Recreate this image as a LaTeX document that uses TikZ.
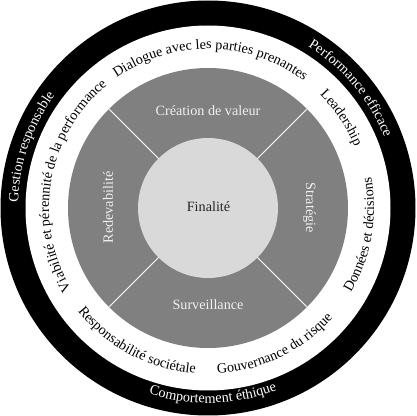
\documentclass[tikz,border=0pt]{standalone}
\usepackage{fontspec}
\setmainfont{Liberation Serif}
\usetikzlibrary{decorations.text}
\definecolor{ringgrey}{HTML}{808080}
\definecolor{coregrey}{HTML}{D9D9D9}
\definecolor{paletext}{HTML}{F0F0F0}
\definecolor{darktext}{HTML}{262626}
\newcommand\myfont{\fontsize{14.2}{16}\selectfont}
% clockwise arc text (letters point outward): #1 radius, #2 mid angle, #3 colour, #4 text
\newcommand\arctextcw[4]{%
  \path[decoration={text along path,text align=center,
        text={|\myfont\color{#3}|#4}},decorate]
    ([shift={(#2+70:#1)}]c) arc[start angle=#2+70,end angle=#2-70,radius=#1];}
% counter-clockwise arc text (letters point inward)
\newcommand\arctextccw[4]{%
  \path[decoration={text along path,text align=center,
        text={|\myfont\color{#3}|#4}},decorate]
    ([shift={(#2-70:#1)}]c) arc[start angle=#2-70,end angle=#2+70,radius=#1];}
\begin{document}
\begin{tikzpicture}[x=1pt,y=1pt,
  divider/.style={draw=white,line width=0.9pt},
  innerlabel/.style={text=paletext,font=\myfont,inner sep=0pt},
  corelabel/.style={text=darktext,font=\myfont,inner sep=0pt}]
\useasboundingbox (0,0) rectangle (416,416);
\coordinate (c) at (208,208);
\fill[black] (c) circle[radius=207.5];
\fill[white] (c) circle[radius=182.5];
\fill[ringgrey] (c) circle[radius=140];
\fill[coregrey] (c) circle[radius=70];
% dividers
\foreach \a in {45,135,225,315}{
  \coordinate (d\a i) at ([shift={(\a:70)}]c);
  \coordinate (d\a o) at ([shift={(\a:140)}]c);
  \draw[divider] (d\a i) -- (d\a o);
}
% inner ring labels
\node[innerlabel] (creation) at (208,305.5) {Création de valeur};
\node[innerlabel] (surv) at (208,111) {Surveillance};
\node[innerlabel,rotate=90] (redev) at (108,208.5) {Redevabilité};
\node[innerlabel,rotate=-90] (strat) at (309.5,208.5) {Stratégie};
\node[corelabel] (fin) at (208.5,209.5) {Finalité};
% white ring texts
\arctextcw{159}{89}{black}{Dialogue avec les parties prenantes}
\arctextcw{159}{34}{black}{Leadership}
\arctextccw{166}{-10}{black}{Données et décisions}
\arctextccw{166}{-64}{black}{Gouvernance du risque}
\arctextccw{166}{-118}{black}{Responsabilité sociétale}
\arctextcw{159}{170}{black}{Viabilité et pérennité de la performance}
% black ring texts
\arctextcw{190}{161}{white}{Gestion responsable}
\arctextcw{190}{40}{white}{Performance efficace}
\arctextccw{195}{-88.5}{white}{Comportement éthique}
\end{tikzpicture}
\end{document}
